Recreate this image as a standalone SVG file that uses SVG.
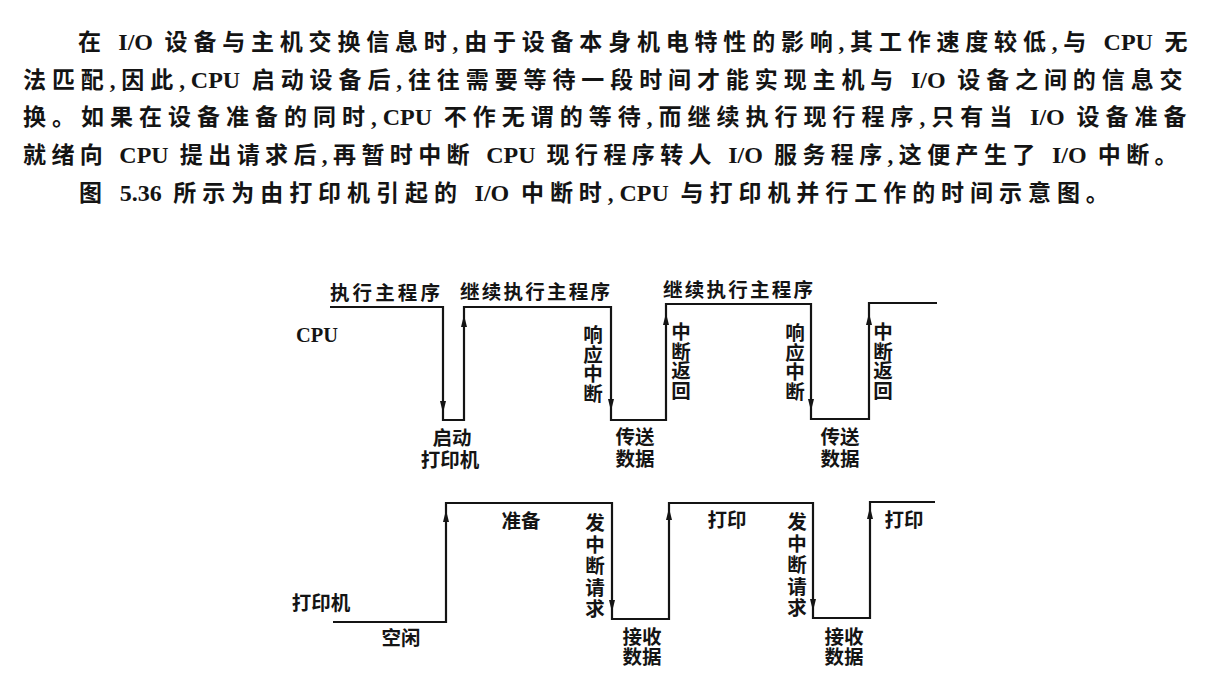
<svg xmlns="http://www.w3.org/2000/svg" width="1226" height="696" viewBox="0 0 1226 696">
  <defs>
    <style>
      .p{font-family:"Liberation Serif","Noto Sans CJK SC",serif;font-size:23px;font-weight:bold;fill:#141414}
      .lat{letter-spacing:0;font-size:24px}
      .l{font-family:"Liberation Serif","Noto Sans CJK SC",sans-serif;font-size:19.5px;font-weight:bold;fill:#141414;text-anchor:middle;dominant-baseline:central}
      .v{font-size:19.5px}
      .w{fill:none;stroke:#141414;stroke-width:2.2;stroke-linejoin:miter}
      .ah{fill:#141414}
    </style>
    <!-- narrow filled arrowheads, tip at origin -->
    <path id="ad" d="M0 0 L-3 -12 L3 -12 Z"/>
    <path id="au" d="M0 0 L-3 12 L3 12 Z"/>
  </defs>

  <rect width="1226" height="696" fill="#ffffff"/>

  <!-- body text: Latin words keep natural spacing, CJK runs are spread -->
  <g id="paragraph">
    <text class="p" x="78" y="50" style="letter-spacing:5.8px">在 <tspan class="lat">I/O</tspan> 设备与主机交换信息时,由于设备本身机电特性的影响,其工作速度较低,与 <tspan class="lat">CPU</tspan> 无</text>
    <text class="p" x="23" y="88" style="letter-spacing:5.9px">法匹配,因此,<tspan class="lat">CPU</tspan> 启动设备后,往往需要等待一段时间才能实现主机与 <tspan class="lat">I/O</tspan> 设备之间的信息交</text>
    <text class="p" x="23" y="125" style="letter-spacing:6.0px">换。如果在设备准备的同时,<tspan class="lat">CPU</tspan> 不作无谓的等待,而继续执行现行程序,只有当 <tspan class="lat">I/O</tspan> 设备准备</text>
    <text class="p" x="23" y="163" style="letter-spacing:5.4px">就绪向 <tspan class="lat">CPU</tspan> 提出请求后,再暂时中断 <tspan class="lat">CPU</tspan> 现行程序转人 <tspan class="lat">I/O</tspan> 服务程序,这便产生了 <tspan class="lat">I/O</tspan> 中断。</text>
    <text class="p" x="79" y="201" style="letter-spacing:5.95px">图 <tspan class="lat">5.36</tspan> 所示为由打印机引起的 <tspan class="lat">I/O</tspan> 中断时,<tspan class="lat">CPU</tspan> 与打印机并行工作的时间示意图。</text>
  </g>

  <!-- timing waveforms and arrowheads -->
  <g id="connectors">
    <path id="cpu-wave" class="w" d="M330 307 H443 V420 H464 V307 H611 V420 H666 V304 H811 V419 H869 V303 H937"/>
    <path id="printer-wave" class="w" d="M333 622 H446 V503 H612 V619 H669 V503 H813 V618 H870 V502 H935"/>
    <g class="ah">
      <use href="#ad" x="443" y="413"/>
      <use href="#au" x="464" y="315"/>
      <use href="#ad" x="611" y="411"/>
      <use href="#au" x="666" y="313"/>
      <use href="#ad" x="811" y="411"/>
      <use href="#au" x="869" y="313"/>
      <use href="#au" x="446" y="510"/>
      <use href="#ad" x="612" y="612"/>
      <use href="#au" x="669" y="508"/>
      <use href="#ad" x="813" y="611"/>
      <use href="#au" x="870" y="507"/>
    </g>
  </g>

  <!-- CPU row -->
  <g id="cpu-label"><text class="l" x="317" y="334" style="font-size:22px" textLength="42" lengthAdjust="spacingAndGlyphs">CPU</text></g>
  <g id="exec-main"><text class="l" x="385" y="293" textLength="110" lengthAdjust="spacing">执行主程序</text></g>
  <g id="resume-main-1"><text class="l" x="535" y="292" textLength="150" lengthAdjust="spacing">继续执行主程序</text></g>
  <g id="resume-main-2"><text class="l" x="738" y="290" textLength="150" lengthAdjust="spacing">继续执行主程序</text></g>
  <g id="start-printer">
    <text class="l" x="452" y="438">启动</text>
    <text class="l" x="450" y="460">打印机</text>
  </g>
  <g id="ack-int-1">
    <text class="l v"><tspan x="593" y="335">响</tspan><tspan x="593" y="354.5">应</tspan><tspan x="593" y="374">中</tspan><tspan x="593" y="393.5">断</tspan></text>
  </g>
  <g id="send-data-1">
    <text class="l" x="635" y="437">传送</text>
    <text class="l" x="635" y="459">数据</text>
  </g>
  <g id="int-return-1">
    <text class="l v"><tspan x="681" y="332">中</tspan><tspan x="681" y="351.5">断</tspan><tspan x="681" y="371">返</tspan><tspan x="681" y="390.5">回</tspan></text>
  </g>
  <g id="ack-int-2">
    <text class="l v"><tspan x="795" y="333">响</tspan><tspan x="795" y="352.5">应</tspan><tspan x="795" y="372">中</tspan><tspan x="795" y="391.5">断</tspan></text>
  </g>
  <g id="send-data-2">
    <text class="l" x="840" y="437">传送</text>
    <text class="l" x="840" y="459">数据</text>
  </g>
  <g id="int-return-2">
    <text class="l v"><tspan x="883" y="332">中</tspan><tspan x="883" y="351.5">断</tspan><tspan x="883" y="371">返</tspan><tspan x="883" y="390.5">回</tspan></text>
  </g>

  <!-- printer row -->
  <g id="printer-label"><text class="l" x="321" y="603">打印机</text></g>
  <g id="idle"><text class="l" x="401" y="638">空闲</text></g>
  <g id="prepare"><text class="l" x="521" y="521">准备</text></g>
  <g id="int-request-1">
    <text class="l v"><tspan x="595" y="523">发</tspan><tspan x="595" y="544.5">中</tspan><tspan x="595" y="566">断</tspan><tspan x="595" y="587.5">请</tspan><tspan x="595" y="609">求</tspan></text>
  </g>
  <g id="recv-data-1">
    <text class="l" x="642" y="637">接收</text>
    <text class="l" x="642" y="657">数据</text>
  </g>
  <g id="print-1"><text class="l" x="727" y="520">打印</text></g>
  <g id="int-request-2">
    <text class="l v"><tspan x="797" y="522">发</tspan><tspan x="797" y="543.5">中</tspan><tspan x="797" y="565">断</tspan><tspan x="797" y="586.5">请</tspan><tspan x="797" y="608">求</tspan></text>
  </g>
  <g id="recv-data-2">
    <text class="l" x="844" y="637">接收</text>
    <text class="l" x="844" y="657">数据</text>
  </g>
  <g id="print-2"><text class="l" x="904" y="520">打印</text></g>
</svg>
